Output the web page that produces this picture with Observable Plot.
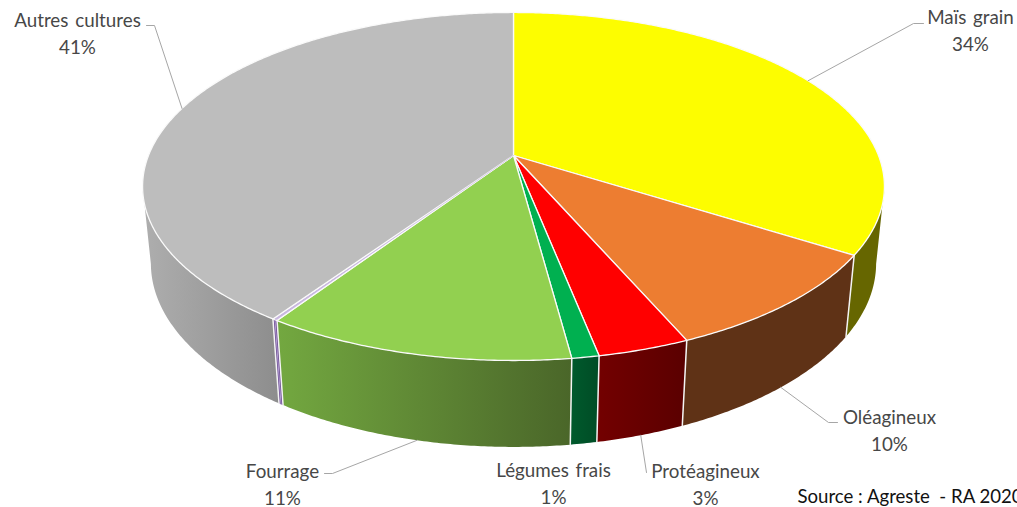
<!DOCTYPE html>
<html lang="fr">
<head>
<meta charset="utf-8">
<script src="https://cdn.jsdelivr.net/npm/d3@7"></script>
<script src="https://cdn.jsdelivr.net/npm/@observablehq/plot@0.6"></script>
<style>html,body{margin:0;padding:0;background:#fff;overflow:hidden}</style>
</head>
<body>
<div id="chart"></div>
<script>
// Data
const categories = ["Maïs grain", "Oléagineux", "Protéagineux", "Légumes frais", "Fourrage", "Non renseigné", "Autres cultures"];
const values = [34, 9.5, 3.4, 1, 11.4, 0.2, 40.5];
const topColors = ["#fdfd00", "#ed7d31", "#ff0000", "#00b050", "#92d050", "#c9b8e0", "#bdbdbd"];
const wallLeft = ["#666600", "#5f3216", "#730000", "#005a2c", "#73a840", "#6a4a90", "#aeaeae"];
const wallRight = ["#666600", "#5f3216", "#5a0000", "#004c26", "#4a6629", "#6a4a90", "#8d8d8d"];

// Label placement (centre of the text block) and leader elbows, per category
const labelPlace = [[970, 28], [889, 428], [705, 482], [553, 481], [282, 482], null, [77, 31]];
const leaderBend = [[[913, 23], [923, 23]], [[828, 422], [837, 422]], [[646, 472]], null, [[332, 473], [324, 473]], null, [[154, 25], [146, 25]]];
const leaderOnWall = [false, true, true, false, true, false, false];

// Perspective model of the cylinder
const cx = 513, cy = 155, a = 365, b = 168.5, k = 0.178, m = 0.0222, c = 77.5;
function project(theta, z) {
  const X = Math.sin(theta), Y = -Math.cos(theta), w = 1 - k * Y + m * z;
  return [cx + a * X / w, cy + (b * Y + c * z) / w];
}
const total = d3.sum(values);
const cum = d3.cumsum(values);
const ang = p => p / total * 2 * Math.PI;
const start = i => ang(i ? cum[i - 1] : 0), end = i => ang(cum[i]);
const arc = (t0, t1, z) => {
  const n = Math.max(2, Math.ceil((t1 - t0) / 0.008));
  return d3.range(n + 1).map(j => project(t0 + (t1 - t0) * j / n, z));
};

// Top faces
const topRows = categories.flatMap((name, i) =>
  [[cx, cy], ...arc(start(i), end(i), 0), [cx, cy]].map(([x, y]) => ({name, x, y})));

// Walls, visible part only
const tR = Math.acos(-k), tL = 2 * Math.PI - tR;
const walls = categories.map((name, i) => {
  const t0 = Math.max(start(i), tR), t1 = Math.min(end(i), tL);
  if (t1 <= t0) return [];
  return [...arc(t0, t1, 0), ...arc(t0, t1, 1).reverse()].map(([x, y]) => ({x, y}));
});
const edges = d3.range(categories.length).flatMap(i => {
  const t = end(i);
  if (t < tR || t > tL) return [];
  return [project(t, 0), project(t, 1)].map(([x, y]) => ({edge: i, x, y}));
});
const sliver = categories.indexOf("Non renseigné");
const sliverMid = (start(sliver) + end(sliver)) / 2;
const sliverTop = [[cx, cy], project(sliverMid, 0)].map(([x, y]) => ({x, y}));
const sliverWall = [project(sliverMid, 0), project(sliverMid, 1)].map(([x, y]) => ({x, y}));

// Labels and leaders
const labels = categories.map((name, i) => labelPlace[i] && ({
  text: `${name}\n${Math.round(values[i])}%`, x: labelPlace[i][0], y: labelPlace[i][1]
})).filter(Boolean);
const leaders = categories.flatMap((name, i) => {
  if (!leaderBend[i]) return [];
  const p = project((start(i) + end(i)) / 2, leaderOnWall[i] ? 1 : 0);
  return [p, ...leaderBend[i]].map(([x, y]) => ({name, x, y}));
});

const gradients = () => {
  const defs = d3.create("svg:defs");
  categories.forEach((_, i) => {
    const g = defs.append("linearGradient").attr("id", `wall${i}`);
    g.append("stop").attr("offset", 0).attr("stop-color", wallLeft[i]);
    g.append("stop").attr("offset", 1).attr("stop-color", wallRight[i]);
  });
  return defs.node();
};

const fontFamily = "Lato, 'Open Sans', sans-serif";
const chart = Plot.plot({
  width: 1017, height: 507, margin: 0,
  x: {domain: [0, 1017], range: [0, 1017], axis: null},
  y: {domain: [0, 507], range: [0, 507], axis: null},
  color: {domain: categories, range: topColors},
  style: {background: "#fff", fontFamily, overflow: "hidden"},
  marks: [
    gradients,
    ...walls.map((rows, i) => Plot.line(rows, {x: "x", y: "y", fill: `url(#wall${i})`, stroke: "none"})),
    Plot.line(edges, {x: "x", y: "y", z: "edge", stroke: "#f4f4f4", strokeWidth: 1.5}),
    Plot.line(sliverWall, {x: "x", y: "y", stroke: "#b9a6d8", strokeWidth: 0.9}),
    Plot.line(topRows, {x: "x", y: "y", z: "name", fill: "name", stroke: "#fafafa", strokeWidth: 1.3, strokeLinejoin: "round"}),
    Plot.line(sliverTop, {x: "x", y: "y", stroke: "#c9b8e0", strokeWidth: 0.7}),
    Plot.line(leaders, {x: "x", y: "y", z: "name", stroke: "#a6a6a6", strokeWidth: 1}),
    Plot.text(labels, {x: "x", y: "y", text: "text", fill: "#474747", fontSize: 18.8, lineHeight: 1.43, textAnchor: "middle", className: "lab"}),
    Plot.text(["Source : Agreste \u00a0- RA 2020"], {x: () => 797, y: () => 497, text: d => d, fill: "#111", fontSize: 18.6, textAnchor: "start"})
  ]
});
chart.querySelectorAll(".lab text").forEach(t => t.style.wordSpacing = "2px");
document.getElementById("chart").appendChild(chart);
</script>
</body>
</html>
